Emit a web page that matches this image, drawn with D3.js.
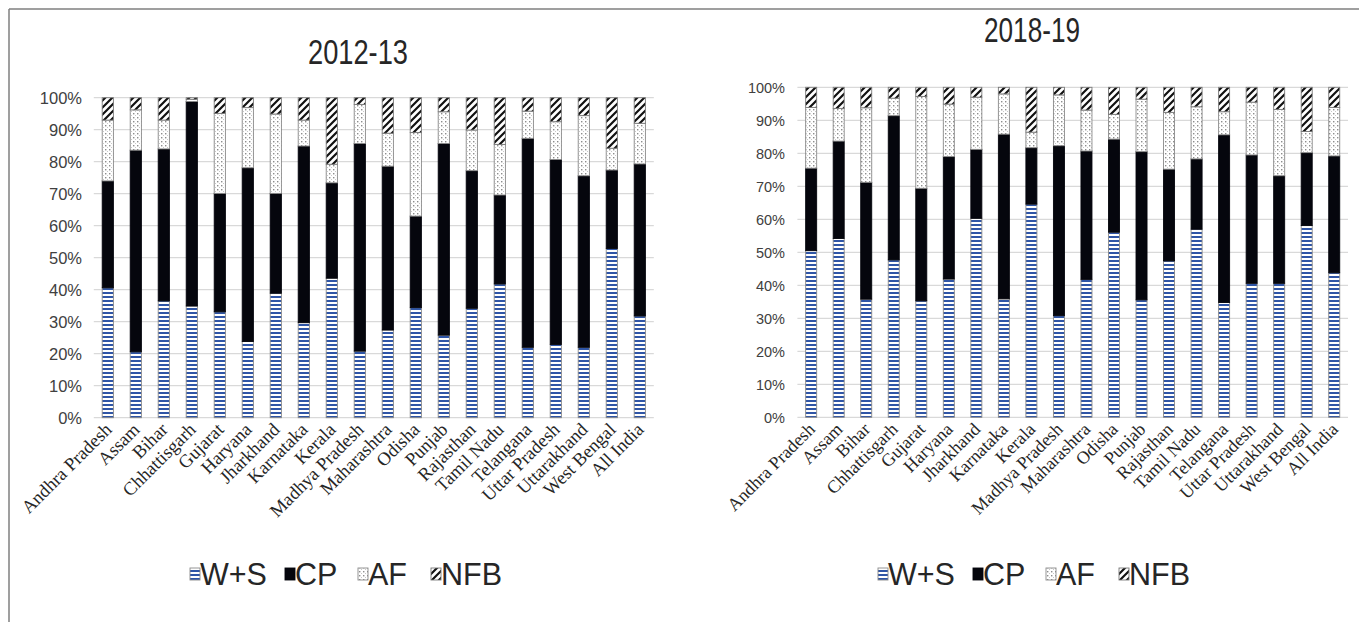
<!DOCTYPE html>
<html><head><meta charset="utf-8">
<script src="https://cdn.jsdelivr.net/npm/d3@7"></script>
<style>body{margin:0;background:#fff;}svg{display:block;}</style>
</head><body>
<svg id="chart" width="1359" height="622"></svg>
<script>
const categories = ["Andhra Pradesh","Assam","Bihar","Chhattisgarh","Gujarat","Haryana","Jharkhand","Karnataka","Kerala","Madhya Pradesh","Maharashtra","Odisha","Punjab","Rajasthan","Tamil Nadu","Telangana","Uttar Pradesh","Uttarakhand","West Bengal","All India"];
const seriesKeys = ["W+S","CP","AF","NFB"];
const yTicks = [0,10,20,30,40,50,60,70,80,90,100];

// 2012-13
const ws2012  = [40.6,20.6,36.5,34.9,33.1,23.8,38.9,29.7,43.6,20.8,27.4,34.4,25.8,34.2,41.8,22.0,22.9,22.0,52.9,31.8];
const cp2012  = [33.4,63.0,47.5,63.9,37.0,54.3,31.2,55.2,29.8,64.9,51.2,28.6,59.9,43.0,27.8,65.3,57.8,53.6,24.5,47.5];
const af2012  = [19.0,12.6, 9.0, 0.7,25.0,18.8,24.8, 8.1, 5.8,12.2,10.3,26.1, 9.9,12.7,15.8, 8.5,11.8,18.8, 6.8,12.7];
const nfb2012 = [ 7.0, 3.8, 7.0, 0.5, 4.9, 3.1, 5.1, 7.0,20.8, 2.1,11.1,10.9, 4.4,10.1,14.6, 4.2, 7.5, 5.6,15.8, 8.0];

// 2018-19
const ws2018  = [50.5,54.2,35.8,47.7,35.3,41.9,60.3,35.9,64.6,30.8,41.8,56.1,35.6,47.4,57.0,34.8,40.6,40.6,58.1,43.8];
const cp2018  = [25.0,29.5,35.4,43.7,34.1,37.1,20.9,49.9,17.1,51.5,38.9,28.2,44.9,27.8,21.3,50.8,38.9,32.6,22.1,35.4];
const af2018  = [18.4, 9.9,22.6, 5.3,27.8,15.9,15.8,12.2, 4.7,15.4,12.4, 7.5,15.9,17.2,15.8, 7.0,16.0,20.1, 6.4,14.7];
const nfb2018 = [ 6.1, 6.4, 6.2, 3.3, 2.8, 5.1, 3.0, 2.0,13.6, 2.3, 6.9, 8.2, 3.6, 7.6, 5.9, 7.4, 4.5, 6.7,13.4, 6.1];

function rows(ws, cp, af, nfb){
  return categories.map((c,i)=>({cat:c,"W+S":ws[i],"CP":cp[i],"AF":af[i],"NFB":nfb[i]}));
}

const svg = d3.select("#chart");
const defs = svg.append("defs");

// patterns
const pWS = defs.append("pattern").attr("id","pWS").attr("patternUnits","userSpaceOnUse").attr("width",4).attr("height",4);
pWS.append("rect").attr("width",4).attr("height",4).attr("fill","#ffffff");
pWS.append("rect").attr("width",4).attr("height",2).attr("fill","#2f55a6");

const pAF = defs.append("pattern").attr("id","pAF").attr("patternUnits","userSpaceOnUse").attr("width",4).attr("height",4);
pAF.append("rect").attr("width",4).attr("height",4).attr("fill","#ffffff");
pAF.append("rect").attr("x",1).attr("y",1).attr("width",1.4).attr("height",1.4).attr("fill","#8c8c8c");
pAF.append("rect").attr("x",3).attr("y",3).attr("width",1).attr("height",1).attr("fill","#c8c8c8");

const pNFB = defs.append("pattern").attr("id","pNFB").attr("patternUnits","userSpaceOnUse").attr("width",7).attr("height",7);
pNFB.append("rect").attr("width",7).attr("height",7).attr("fill","#ffffff");
pNFB.append("path").attr("d","M-1,8 L8,-1 M-2,2 L2,-2 M5,9 L9,5").attr("stroke","#111").attr("stroke-width",2.2);

const fills = {"W+S":"url(#pWS)","CP":"#05060d","AF":"url(#pAF)","NFB":"url(#pNFB)"};
const strokes = {"W+S":"#8a8a8a","CP":"#05060d","AF":"#8a8a8a","NFB":"#7a7a7a"};

// frame lines (top and left)
svg.append("line").attr("x1",9).attr("x2",1359).attr("y1",9).attr("y2",9).attr("stroke","#7f7f7f").attr("stroke-width",1.5);
svg.append("line").attr("x1",9).attr("x2",9).attr("y1",9).attr("y2",622).attr("stroke","#7f7f7f").attr("stroke-width",1.5);

function panel(o){
  const data = rows(o.ws,o.cp,o.af,o.nfb);
  const x = d3.scaleBand().domain(categories).range([o.x0,o.x1]).paddingInner(0.6).paddingOuter(0.3);
  const y = d3.scaleLinear().domain([0,100]).range([o.y0,o.y1]);
  const g = svg.append("g");

  // gridlines
  g.selectAll("line.grid").data(yTicks).enter().append("line")
    .attr("x1",o.x0).attr("x2",o.x1)
    .attr("y1",d=>y(d)).attr("y2",d=>y(d))
    .attr("stroke","#d9d9d9").attr("stroke-width",1.2);

  // y tick labels
  g.selectAll("text.yt").data(yTicks).enter().append("text")
    .attr("x",o.yLabX).attr("y",d=>y(d)).attr("dy","0.36em")
    .attr("text-anchor","end")
    .attr("font-family","'Liberation Sans', Arial, sans-serif")
    .attr("font-size",o.yFont).attr("fill","#404040")
    .text(d=>d+"%");

  const stack = d3.stack().keys(seriesKeys)(data);
  stack.forEach(s=>{
    g.selectAll(null).data(s).enter().append("rect")
      .attr("x",d=>x(d.data.cat))
      .attr("width",x.bandwidth())
      .attr("y",d=>y(d[1]))
      .attr("height",d=>Math.max(0,y(d[0])-y(d[1])))
      .attr("fill",fills[s.key])
      .attr("stroke",strokes[s.key]).attr("stroke-width",0.9);
  });

  // x labels
  g.selectAll("text.xl").data(categories).enter().append("text")
    .attr("transform",d=>`translate(${x(d)+x.bandwidth()/2+5},${o.y0+13}) rotate(-45)`)
    .attr("text-anchor","end")
    .attr("font-family","'Liberation Serif', 'Times New Roman', serif")
    .attr("font-size",o.xFont).attr("fill","#262626")
    .text(d=>d);

  // title
  svg.append("text").attr("x",o.titleX).attr("y",o.titleY)
    .attr("text-anchor","middle")
    .attr("font-family","'Liberation Sans Narrow', 'Liberation Sans', Arial, sans-serif")
    .attr("font-size",35).attr("fill","#262626")
    .attr("textLength",o.titleW).attr("lengthAdjust","spacingAndGlyphs")
    .text(o.title);

  // legend
  const lg = svg.append("g").attr("transform",`translate(${o.legX},${o.legY})`);
  const legPos = [0,95,168,241];
  seriesKeys.forEach((k,i)=>{
    const it = lg.append("g").attr("transform",`translate(${legPos[i]},0)`);
    it.append("rect").attr("x",0).attr("y",-6).attr("width",10).attr("height",12)
      .attr("fill",fills[k]).attr("stroke",strokes[k]).attr("stroke-width",0.9);
    it.append("text").attr("x",10).attr("y",0).attr("dy","0.36em")
      .attr("font-family","'Liberation Sans', Arial, sans-serif")
      .attr("font-size",30.5).attr("fill","#262626").text(k);
  });
}

panel({ws:ws2012,cp:cp2012,af:af2012,nfb:nfb2012,
  x0:93.8,x1:653.8,y0:417.7,y1:97.7,yLabX:82,yFont:16.5,xFont:18.5,
  title:"2012-13",titleX:358,titleY:64,titleW:100,legX:190,legY:574});

panel({ws:ws2018,cp:cp2018,af:af2018,nfb:nfb2018,
  x0:797.4,x1:1348,y0:417.3,y1:87.3,yLabX:785,yFont:14.5,xFont:18,
  title:"2018-19",titleX:1032,titleY:42,titleW:96,legX:878,legY:574});
</script>
</body></html>
